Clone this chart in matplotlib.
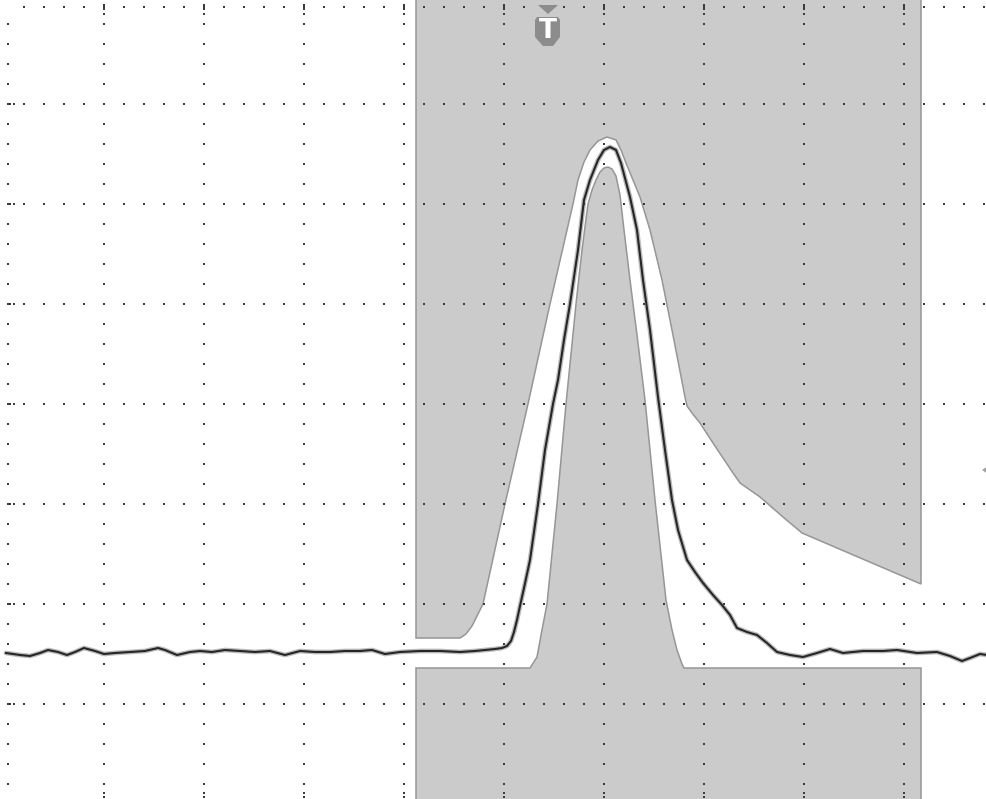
import numpy as np
import matplotlib
matplotlib.use("Agg")
import matplotlib.pyplot as plt
from matplotlib.patches import Polygon

# time in ps (100 ps/div), amplitude in mV (100 mV/div)
sig_t = [2, 16, 26, 36, 44, 54, 63, 71, 80, 91, 100, 111, 126, 141, 154, 161, 173, 186, 196, 208,
         221, 236, 251, 266, 281, 296, 311, 326, 341, 356, 368, 381, 396, 416, 436, 456, 471, 491,
         498, 503, 507, 510, 513, 516, 520, 526, 534, 541, 549, 554, 560, 566, 574, 580, 586, 594,
         600, 606, 612, 617, 626, 633, 639, 646, 654, 661, 668, 674, 683, 691, 699, 709, 718, 726,
         733, 743, 753, 763, 773, 786, 799, 813, 826, 839, 859, 879, 893, 913, 933, 946, 958, 966,
         976, 983]
sig_v = [51, 49, 48, 51, 54, 52, 49, 52, 56, 53, 50, 51, 52, 53, 56, 54, 49, 52, 53, 52,
         54, 53, 52, 53, 49, 53, 52, 52, 53, 53, 54, 50, 52, 53, 53, 52, 53, 55,
         56, 58, 63, 72, 84, 98, 116, 144, 200, 254, 300, 324, 364, 400, 454, 504, 524, 544,
         554, 557, 554, 541, 507, 474, 424, 374, 307, 254, 204, 174, 144, 132, 121, 109, 99, 89,
         76, 72, 69, 61, 52, 49, 47, 51, 55, 51, 53, 53, 54, 51, 52, 48, 43, 46,
         50, 49]

# upper mask region (lower edge follows the outer envelope)
outer_t = [412, 412, 456, 462, 468, 473, 479, 501, 524, 546, 569, 574, 580, 586, 594, 603, 612,
           617, 622, 629, 636, 646, 658, 668, 681, 683, 688, 696, 709, 729, 736, 756, 779, 798,
           917, 917]
outer_v = [710, 66, 66, 70, 78, 88, 100, 200, 300, 400, 500, 524, 542, 554, 563, 567, 564,
           554, 541, 524, 507, 474, 424, 374, 307, 298, 291, 281, 261, 231, 221, 207, 187, 171,
           120, 710]

# lower / central mask region
inner_t = [412, 412, 526, 533, 538, 543, 553, 562, 572, 578, 584, 588, 592, 596, 600, 604, 608,
           612, 616, 620, 626, 633, 641, 651, 662, 668, 673, 678, 680, 917, 917]
inner_v = [-100, 36, 36, 47, 74, 100, 200, 300, 400, 454, 500, 514, 524, 532, 536, 537, 535,
           528, 509, 474, 424, 369, 304, 204, 104, 74, 54, 40, 36, 36, -100]

major_x = [100, 200, 300, 400, 500, 600, 700, 800, 900]
major_y = [0, 100, 200, 300, 400, 500, 600]

fig = plt.figure(figsize=(9.87, 7.99), dpi=100)
ax = fig.add_axes([0, 0, 1, 1])
ax.set_xlim(-4, 983)
ax.set_ylim(-95, 704)
ax.axis('off')

mask_face = '#cbcbcb'
mask_edge = '#969696'
ax.add_patch(Polygon(np.column_stack([outer_t, outer_v]), closed=True, facecolor=mask_face,
                     edgecolor=mask_edge, lw=1.1, zorder=1))
ax.add_patch(Polygon(np.column_stack([inner_t, inner_v]), closed=True, facecolor=mask_face,
                     edgecolor=mask_edge, lw=1.1, zorder=1))

# graticule dots
dx, dy = [], []
vert_cols = [4] + major_x
for x in vert_cols:
    for y in np.arange(680, -81, -20):
        dx.append(x); dy.append(y)
for x in major_x:
    for y in [699, 695, 690, -89, -93]:
        dx.append(x); dy.append(y)
for y in major_y + [697]:
    for x in np.arange(20, 981, 20):
        dx.append(x); dy.append(y)
for y in major_y:
    for x in [6, 10]:
        dx.append(x); dy.append(y)
ax.scatter(dx, dy, marker='s', s=2.2, color='#3c3c3c', linewidths=0, zorder=3)

# waveform
ax.plot(sig_t, sig_v, color='#555555', lw=3.4, alpha=0.4, solid_joinstyle='round',
        solid_capstyle='round', zorder=4)
ax.plot(sig_t, sig_v, color='#262626', lw=1.5, solid_joinstyle='round', zorder=5)

# trigger marker
marker_col = '#8c8c8c'
ax.add_patch(Polygon([(534, 699), (554, 699), (544, 690)], closed=True, facecolor=marker_col,
                     edgecolor='none', zorder=6))
ax.add_patch(Polygon([(533, 687), (554, 687), (556, 684), (556, 667), (549, 658), (539, 658),
                      (531, 667), (531, 684)], closed=True, facecolor=marker_col,
                     edgecolor='none', zorder=6))
ax.text(544, 666, 'T', color='white', fontsize=19, fontweight='bold', ha='center',
        va='baseline', family='DejaVu Sans', zorder=7)

# level marker at right edge
ax.add_patch(Polygon([(978, 234), (990, 242), (990, 226)], closed=True, facecolor='#a0a0a0',
                     edgecolor='none', zorder=6))

fig.savefig('out.png', dpi=100, facecolor='white')
